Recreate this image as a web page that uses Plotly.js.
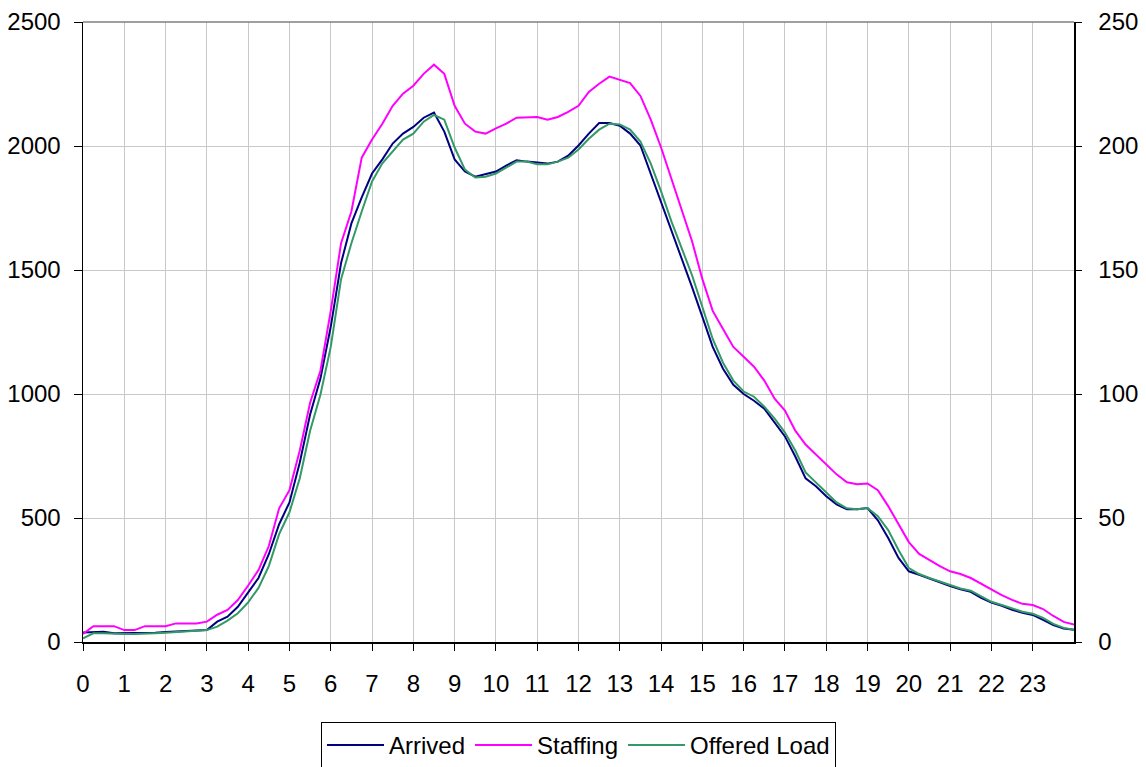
<!DOCTYPE html>
<html>
<head>
<meta charset="utf-8">
<script src="https://cdn.plot.ly/plotly-3.0.1.min.js"></script>
<style>html,body{margin:0;padding:0;background:#fff;}#chart{width:1146px;height:767px;}</style>
</head>
<body>
<div id="chart"></div>
<script>
// time of day in hours (quarter-hour samples)
const hours = [0,0.25,0.5,0.75,1,1.25,1.5,1.75,2,2.25,2.5,2.75,3,3.25,3.5,3.75,4,4.25,4.5,4.75,5,5.25,5.5,5.75,6,6.25,6.5,6.75,7,7.25,7.5,7.75,8,8.25,8.5,8.75,9,9.25,9.5,9.75,10,10.25,10.5,10.75,11,11.25,11.5,11.75,12,12.25,12.5,12.75,13,13.25,13.5,13.75,14,14.25,14.5,14.75,15,15.25,15.5,15.75,16,16.25,16.5,16.75,17,17.25,17.5,17.75,18,18.25,18.5,18.75,19,19.25,19.5,19.75,20,20.25,20.5,20.75,21,21.25,21.5,21.75,22,22.25,22.5,22.75,23,23.25,23.5,23.75,24];

// left axis
const arrived = [38,41,41,35,35,35,35,37,40,42,46,48,48,82,102,142,200,258,354,475,563,724,917,1062,1271,1528,1688,1793,1889,1946,2010,2050,2077,2114,2135,2058,1946,1897,1876,1886,1897,1921,1942,1937,1934,1929,1937,1961,2002,2050,2093,2093,2082,2050,2002,1889,1768,1656,1544,1431,1311,1190,1102,1037,1000,973,941,885,829,748,660,628,588,555,535,535,540,491,419,339,285,271,255,242,226,213,202,178,159,146,130,118,109,89,68,54,49];

const offeredLoad = [15,35,35,32,32,32,32,35,37,40,45,47,48,62,86,116,160,218,306,435,523,660,852,997,1190,1463,1608,1736,1857,1930,1978,2026,2050,2098,2125,2106,1994,1905,1873,1876,1889,1913,1937,1937,1926,1926,1937,1953,1986,2029,2066,2090,2087,2066,2018,1929,1817,1696,1584,1479,1351,1222,1126,1054,1010,989,949,901,845,772,684,644,604,563,539,535,540,507,451,371,298,274,258,245,229,216,207,183,162,149,135,122,114,97,73,57,49];

// right axis
const staffing = [3.2,6.4,6.4,6.4,4.8,4.8,6.4,6.4,6.4,7.5,7.5,7.5,8.2,11,12.9,16.9,22.8,29,38.7,53.9,61.2,77.2,96.5,109.4,133.5,160.8,173.6,195.3,202.6,209,216.2,221.1,224.3,229.1,232.8,229.1,216.2,209,205.8,205,207.1,209,211.4,211.4,211.7,210.6,211.7,213.8,216.2,221.8,225.1,228,226.7,225.4,220.2,210.6,199.4,186.5,173.6,161.6,146.3,133.5,126.2,119,115,111,105.4,98.1,93.3,85.2,79.6,75.6,71.6,67.6,64.4,63.6,63.9,61.2,54.8,47.5,40.3,35.5,33,30.6,28.5,27.4,25.8,23.4,21,18.9,17,15.4,14.9,13.3,10.5,8.1,7];

const xTickVals = [0,1,2,3,4,5,6,7,8,9,10,11,12,13,14,15,16,17,18,19,20,21,22,23];
const xTickText = ['0','1','2','3','4','5','6','7','8','9','10','11','12','13','14','15','16','17','18','19','20','21','22','23'];
const seriesNames = ['Arrived','Staffing','Offered Load'];

const fontFam = '"Liberation Sans", Arial, sans-serif';

const traces = [
  {x: hours, y: arrived, name: seriesNames[0], type: 'scatter', mode: 'lines', line: {color: '#000080', width: 2}},
  {x: hours, y: staffing, name: seriesNames[1], type: 'scatter', mode: 'lines', yaxis: 'y2', line: {color: '#FF00FF', width: 2}},
  {x: hours, y: offeredLoad, name: seriesNames[2], type: 'scatter', mode: 'lines', line: {color: '#339966', width: 2}}
];

const layout = {
  width: 1146, height: 767,
  margin: {l: 83, r: 72, t: 22, b: 125, autoexpand: false},
  paper_bgcolor: '#ffffff', plot_bgcolor: '#ffffff',
  font: {family: fontFam, size: 24, color: '#000000'},
  showlegend: true,
  xaxis: {
    range: [0, 24], tickvals: xTickVals, ticktext: xTickText,
    showgrid: true, gridcolor: '#c8c8c8', gridwidth: 1,
    showline: true, linecolor: '#000000', linewidth: 1.5,
    ticks: 'outside', ticklen: 7, tickcolor: '#000000', tickwidth: 1,
    zeroline: false, ticklabelstandoff: 13,
    tickfont: {family: fontFam, size: 24}
  },
  yaxis: {
    range: [0, 2500], dtick: 500, tick0: 0,
    showgrid: true, gridcolor: '#c8c8c8', gridwidth: 1,
    showline: true, linecolor: '#000000', linewidth: 1.5,
    ticks: 'outside', ticklen: 8, tickcolor: '#000000', tickwidth: 1,
    zeroline: false, ticklabelstandoff: 8,
    tickfont: {family: fontFam, size: 24}
  },
  yaxis2: {
    overlaying: 'y', side: 'right', range: [0, 250], dtick: 50, tick0: 0,
    showgrid: false, zeroline: false,
    showline: true, linecolor: '#000000', linewidth: 1.5,
    ticks: 'outside', ticklen: 6, tickcolor: '#000000', tickwidth: 1,
    ticklabelstandoff: 12,
    tickfont: {family: fontFam, size: 24}
  },
  shapes: [
    {type: 'line', xref: 'paper', yref: 'paper', x0: 0, x1: 1, y0: 1, y1: 1, line: {color: '#808080', width: 1.5}}
  ],
  legend: {
    orientation: 'h', x: 0.5, xanchor: 'center', y: -0.129, yanchor: 'top',
    bordercolor: '#000000', borderwidth: 1, bgcolor: '#ffffff',
    font: {family: fontFam, size: 24}, traceorder: 'normal', itemwidth: 57
  }
};

Plotly.newPlot('chart', traces, layout, {displayModeBar: false, staticPlot: true});
</script>
</body>
</html>
